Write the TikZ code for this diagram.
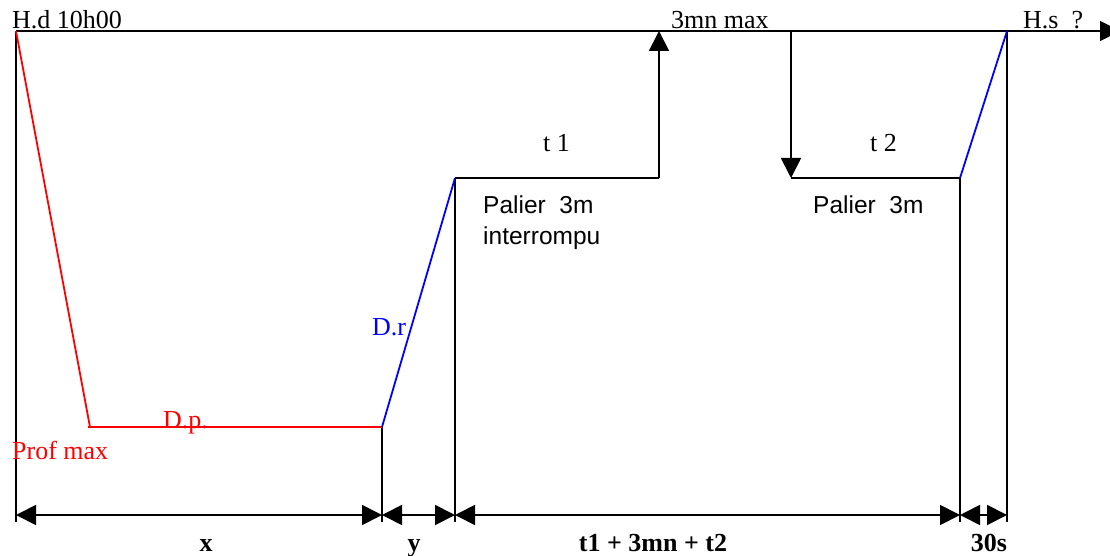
\documentclass[tikz,border=0pt]{standalone}
\usepackage{fontspec}
\setmainfont{Liberation Serif}
\newfontfamily\palfont{Liberation Sans}
\usetikzlibrary{arrows.meta}
\definecolor{pred}{RGB}{255,0,0}
\definecolor{pblue}{RGB}{0,0,255}
\begin{document}
\begin{tikzpicture}[x=1pt,y=-1pt,
  ln/.style={line width=1.8pt, black},
  rd/.style={line width=1.8pt, pred},
  bl/.style={line width=1.8pt, pblue},
  tipend/.style={-{Triangle[length=20pt,width=20pt]}},
  dim/.style={{Triangle[length=20pt,width=20pt]}-{Triangle[length=20pt,width=20pt]}, line width=1.8pt},
  lbl/.style={inner sep=0pt, anchor=base west, font=\fontsize{26}{30}\selectfont},
  slbl/.style={inner sep=0pt, anchor=base west, font=\palfont\fontsize{24.5}{30}\selectfont},
  blbl/.style={inner sep=0pt, anchor=base, font=\fontsize{26}{30}\selectfont\bfseries}]
\useasboundingbox (0,0) rectangle (1110,556);
% key points
\coordinate (O) at (16,31);
\coordinate (E) at (1120,31);
\coordinate (Pm) at (90,427);
\coordinate (Pl) at (88,427);
\coordinate (A) at (382,427);
\coordinate (B) at (455,178);
\coordinate (C) at (659,178);
\coordinate (Ct) at (659,31);
\coordinate (Dt) at (791,31);
\coordinate (D) at (791,178);
\coordinate (F) at (960,178);
\coordinate (G) at (1007,31);
% bottom ends
\coordinate (Ob) at (16,522);
\coordinate (Ab) at (382,522);
\coordinate (Bb) at (455,522);
\coordinate (Fb) at (960,522);
\coordinate (Gb) at (1007,522);
% dimension points
\coordinate (Od) at (16,515);
\coordinate (Ad) at (382,515);
\coordinate (Bd) at (455,515);
\coordinate (Fd) at (960,515);
\coordinate (Gd) at (1007,515);
% time axis
\draw[ln, -{Triangle[length=20pt,width=20pt]}] (O) -- (E);
% vertical guides
\draw[ln] (O) -- (Ob);
\draw[ln] (A) -- (Ab);
\draw[ln] (B) -- (Bb);
\draw[ln] (F) -- (Fb);
\draw[ln] (G) -- (Gb);
% dive profile
\draw[rd] (O) -- (Pm);
\draw[rd] (Pl) -- (A);
\draw[bl] (A) -- (B);
\draw[ln] (B) -- (C);
\draw[ln, tipend] (C) -- (Ct);
\draw[ln, tipend] (Dt) -- (D);
\draw[ln] (D) -- (F);
\draw[bl] (F) -- (G);
% dimensions
\draw[dim] (Od) -- (Ad);
\draw[dim] (Ad) -- (Bd);
\draw[dim] (Bd) -- (Fd);
\draw[dim] (Fd) -- (Gd);
% labels
\node[lbl] (hd) at (12,29) {H.d 10h00};
\node[lbl] (mx) at (671,29) {3mn max};
\node[lbl] (hs) at (1023,29) {H.s~~?};
\node[lbl] (t1) at (543,152) {t 1};
\node[lbl] (t2) at (870,152) {t 2};
\node[slbl] (p1) at (483,213) {Palier~~3m};
\node[slbl] (p1b) at (483,244) {interrompu};
\node[slbl] (p2) at (813,213) {Palier~~3m};
\node[lbl, text=pblue] (dr) at (372,335) {D.r};
\node[lbl, text=pred] (dp) at (163,428) {D.p.};
\node[lbl, text=pred] (pm) at (12,459) {Prof max};
\node[blbl] (lx) at (206,551) {x};
\node[blbl] (ly) at (414,551) {y};
\node[blbl] (lt) at (653,551) {t1 + 3mn + t2};
\node[blbl] (l30) at (989,551) {30s};
\end{tikzpicture}
\end{document}
